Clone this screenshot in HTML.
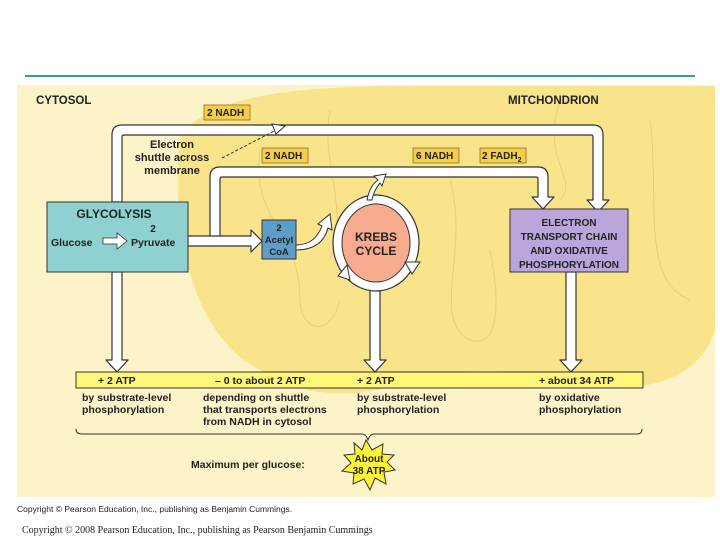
<!DOCTYPE html>
<html><head><meta charset="utf-8"><style>
body{margin:0;width:720px;height:540px;background:#fff;overflow:hidden}
svg{display:block}
text{font-family:"Liberation Sans",Arial,sans-serif;font-weight:bold;fill:#222}
</style></head><body>
<svg width="720" height="540" viewBox="0 0 720 540">
<line x1="25" y1="76" x2="695" y2="76" stroke="#3a9a9a" stroke-width="2"/>
<rect x="17" y="85" width="698" height="412" fill="#fdf3c8"/>
<path d="M180,140 C200,95 300,85 420,86 L715,86 L715,330 C700,380 640,400 560,380 C500,365 440,370 400,385 C340,400 300,395 260,370 C200,340 170,250 180,140Z" fill="#f9e48c"/>
<g fill="none" stroke="#e8cf70" stroke-width="1">
<path d="M260,150 C250,220 300,230 300,300 C300,330 330,340 340,300"/>
<path d="M330,110 C320,170 350,200 330,260"/>
<path d="M450,180 C470,250 430,320 470,340 C500,350 500,300 490,250"/>
<path d="M650,120 C660,200 640,280 690,300"/>
<path d="M560,100 C540,160 580,180 560,200"/>
</g>
<g fill="#fff" stroke="#333" stroke-width="1.2" stroke-linejoin="round">
<!-- top arrow -->
<path d="M112,202 L112,135 Q112,125 122,125 L593,125 Q603,125 603,135 L603,200 L609,200 L598,212 L587,200 L593,200 L593,137 Q593,135 591,135 L124,135 Q122,135 122,137 L122,202 Z"/>
<!-- second arrow -->
<path d="M210,241 L210,177 Q210,167 220,167 L538,167 Q548,167 548,177 L548,197 L554,197 L543,209 L532,197 L538,197 L538,179 Q538,177 536,177 L222,177 Q220,177 220,179 L220,241 Z"/>
<!-- glycolysis to acetyl -->
<path d="M188,236 L251,236 L251,230 L262,241 L251,252 L251,246 L188,246 Z"/>
<!-- down arrows -->
<path d="M112,272 L112,360 L106,360 L117,372 L128,360 L122,360 L122,272 Z"/>
<path d="M370,290 L370,360 L364,360 L375,372 L386,360 L380,360 L380,290 Z"/>
<path d="M566,272 L566,360 L560,360 L571,372 L582,360 L576,360 L576,272 Z"/>
</g>
<!-- krebs -->
<ellipse cx="376" cy="243" rx="43" ry="48" fill="#fff" stroke="#333" stroke-width="1.2"/>
<ellipse cx="376" cy="243" rx="34" ry="39" fill="#f6ab8e" stroke="#333" stroke-width="1"/>
<path d="M296,245 Q315,245 322,226 L318,224 L330,214 L332,230 L328,228 Q322,250 296,250Z" fill="#fff" stroke="#333"/>
<path d="M367,200 Q370,185 378,180 L374,176 L386,174 L382,186 L380,183 Q374,190 372,200Z" fill="#fff" stroke="#333"/>
<path d="M412,262 L420,262 L412,274 L405,262Z" fill="#fff" stroke="#333"/>
<path d="M347,265 L338,276 L350,280Z" fill="#fff" stroke="#333"/>
<text x="376" y="241" font-size="12" text-anchor="middle">KREBS</text>
<text x="376" y="255" font-size="12" text-anchor="middle">CYCLE</text>
<!-- boxes -->
<rect x="47" y="202" width="141" height="70" fill="#8fd1d0" stroke="#333"/>
<text x="114" y="218" font-size="12" text-anchor="middle">GLYCOLYSIS</text>
<text x="153" y="232" font-size="10" text-anchor="middle">2</text>
<text x="51" y="246" font-size="10.5">Glucose</text>
<text x="131" y="246" font-size="10.5">Pyruvate</text>
<path d="M103,238 L117,238 L117,233 L127,241 L117,249 L117,244 L103,244Z" fill="#fff" stroke="#333" stroke-width="0.8"/>
<rect x="262" y="220" width="34" height="39" fill="#5d9ec8" stroke="#333"/>
<text x="279" y="231" font-size="9.5" text-anchor="middle">2</text>
<text x="279" y="243" font-size="9.5" text-anchor="middle">Acetyl</text>
<text x="279" y="255" font-size="9.5" text-anchor="middle">CoA</text>
<rect x="510" y="209" width="118" height="63" fill="#b9a6da" stroke="#333"/>
<g font-size="10" text-anchor="middle">
<text x="569" y="226">ELECTRON</text>
<text x="569" y="240">TRANSPORT CHAIN</text>
<text x="569" y="254">AND OXIDATIVE</text>
<text x="569" y="268">PHOSPHORYLATION</text>
</g>
<g fill="#f4cd4c" stroke="#8a7020" stroke-width="0.8">
<rect x="204" y="105" width="46" height="15"/>
<rect x="262" y="148" width="46" height="15"/>
<rect x="413" y="148" width="46" height="15"/>
<rect x="480" y="148" width="46" height="15"/>
</g>
<g font-size="10">
<text x="207" y="116">2 NADH</text>
<text x="265" y="159">2 NADH</text>
<text x="416" y="159">6 NADH</text>
<text x="482" y="159">2 FADH<tspan font-size="7" dy="3">2</tspan></text>
</g>
<text x="36" y="104" font-size="11.5">CYTOSOL</text>
<text x="508" y="104" font-size="11.5">MITCHONDRION</text>
<g font-size="11" text-anchor="middle">
<text x="172" y="148">Electron</text>
<text x="172" y="161">shuttle across</text>
<text x="172" y="174">membrane</text>
</g>
<path d="M222,158 L280,128" stroke="#333" stroke-dasharray="3,2" fill="none"/>
<path d="M272,124 L285,126 L276,134Z" fill="#fff" stroke="#333"/>
<!-- bottom -->
<rect x="76" y="372" width="567" height="16" fill="#fff77a" stroke="#333"/>
<g font-size="10.5">
<text x="98" y="384">+ 2 ATP</text>
<text x="215" y="384">– 0 to about 2 ATP</text>
<text x="357" y="384">+ 2 ATP</text>
<text x="539" y="384">+ about 34 ATP</text>
</g>
<g font-size="10.5" font-weight="normal">
<text x="82" y="401" style="font-weight:bold">by substrate-level</text>
<text x="82" y="413" style="font-weight:bold">phosphorylation</text>
<text x="203" y="401" style="font-weight:bold">depending on shuttle</text>
<text x="203" y="413" style="font-weight:bold">that transports electrons</text>
<text x="203" y="425" style="font-weight:bold">from NADH in cytosol</text>
<text x="357" y="401" style="font-weight:bold">by substrate-level</text>
<text x="357" y="413" style="font-weight:bold">phosphorylation</text>
<text x="539" y="401" style="font-weight:bold">by oxidative</text>
<text x="539" y="413" style="font-weight:bold">phosphorylation</text>
</g>
<path d="M76,429 Q76,434 82,434 L362,434 Q366,434 368,440 Q370,434 374,434 L637,434 Q642,434 642,429" fill="none" stroke="#333"/>
<text x="191" y="468" font-size="10.5">Maximum per glucose:</text>
<polygon points="366,440 372,450 383,444 382,454 394,455 387,462 395,470 384,472 386,484 375,478 370,490 364,479 353,484 354,473 342,471 351,463 344,455 355,454 354,443 362,450" fill="#fff23a" stroke="#333"/>
<text x="369" y="462" font-size="10" text-anchor="middle">About</text>
<text x="369" y="474" font-size="10" text-anchor="middle">38 ATP</text>
<text x="17" y="512" font-size="8.5" font-weight="normal" style="font-weight:normal">Copyright © Pearson Education, Inc., publishing as Benjamin Cummings.</text>
<text x="22" y="533" font-size="10" style="font-weight:normal;font-family:'Liberation Serif',serif">Copyright © 2008 Pearson Education, Inc., publishing as Pearson Benjamin Cummings</text>
</svg>
</body></html>
